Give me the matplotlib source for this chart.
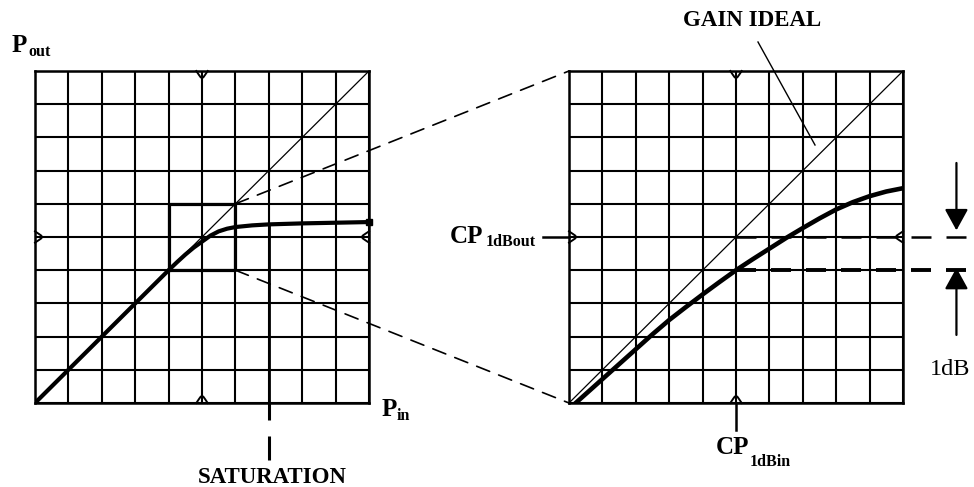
import numpy as np
import matplotlib
matplotlib.use("Agg")
import matplotlib.pyplot as plt
from matplotlib.patches import ConnectionPatch, FancyArrowPatch

plt.rcParams['lines.scale_dashes'] = False

# ---------------- data (grid units, 0..10) ----------------
grid_ticks = list(range(11))
ideal_x = [0, 10]
ideal_y = [0, 10]

# full-range transfer curve (left panel)
left_curve_x = [0, 1, 2, 3, 4, 4.25, 4.5, 4.75, 5.0, 5.25, 5.5, 5.75, 6.0, 6.5, 7, 8, 9, 10]
left_curve_y = [0, 1, 2, 3, 4, 4.24, 4.47, 4.68, 4.86, 5.04, 5.17, 5.25, 5.30, 5.35, 5.38, 5.41, 5.43, 5.45]

# zoomed transfer curve (right panel)
right_curve_x = [0.2, 1, 1.5, 2, 2.5, 3, 3.5, 4, 4.5, 5, 5.5, 6, 6.5, 7, 7.5, 8, 8.5, 9, 9.5, 10]
right_curve_y = [0.0, 0.72, 1.17, 1.62, 2.07, 2.5, 2.89, 3.27, 3.64, 4.0, 4.33, 4.65, 4.97,
                 5.27, 5.56, 5.83, 6.05, 6.23, 6.37, 6.47]

zoom_box_x = [4, 6, 6, 4, 4]
zoom_box_y = [4, 4, 6, 6, 4]

saturation_x = 7
cp1db_in = 5
cp1db_out = 5
cp1db_level = 4

W, H = 974, 487
serif = 'Liberation Serif'

fig = plt.figure(figsize=(W / 100, H / 100), dpi=100)


def box(x0, y0, x1, y1):
    return [x0 / W, 1 - y1 / H, (x1 - x0) / W, (y1 - y0) / H]


axL = fig.add_axes(box(35, 71, 369, 403))
axR = fig.add_axes(box(569, 71, 903, 403))

# rounded "V" ear shape: (offset along edge, depth into the grid)
ear_u = np.array([-0.17, -0.09, -0.04, 0.0, 0.04, 0.09, 0.17])
ear_d = np.array([0.0, 0.12, 0.19, 0.21, 0.19, 0.12, 0.0])

for ax in (axL, axR):
    ax.set_xlim(0, 10)
    ax.set_ylim(0, 10)
    ax.set_xticks(grid_ticks)
    ax.set_yticks(grid_ticks)
    ax.tick_params(length=0, labelbottom=False, labelleft=False)
    ax.grid(True, color='black', linewidth=1.5)
    ax.set_axisbelow(True)
    for s in ax.spines.values():
        s.set_linewidth(1.8)
        s.set_color('black')
    # ideal gain line
    ax.plot(ideal_x, ideal_y, color='black', linewidth=0.9, zorder=3)
    kw = dict(color='black', linewidth=1.4, clip_on=False, zorder=4)
    ax.plot(5 + ear_u, 10 - ear_d, **kw)   # top
    ax.plot(5 + ear_u, 0 + ear_d, **kw)    # bottom
    ax.plot(0 + ear_d, 5 + ear_u, **kw)    # left
    ax.plot(10 - ear_d, 5 + ear_u, **kw)   # right

# ---- left panel ----
axL.plot(left_curve_x, left_curve_y, color='black', linewidth=3.0, zorder=5,
         solid_capstyle='butt', solid_joinstyle='round')
axL.plot([left_curve_x[-1]], [left_curve_y[-1]], marker='s', markersize=5,
         color='black', clip_on=False, zorder=6)
axL.plot(zoom_box_x, zoom_box_y, color='black', linewidth=2.3, zorder=5)
# saturation marker line
sat_y = np.interp(saturation_x, left_curve_x, left_curve_y)
axL.plot([saturation_x, saturation_x], [sat_y, 0], color='black', linewidth=2.0, zorder=4)
axL.plot([saturation_x, saturation_x], [0, -0.51], color='black', linewidth=2.2,
         clip_on=False, solid_capstyle='butt')
axL.plot([saturation_x, saturation_x], [-1.0, -1.72], color='black', linewidth=2.2,
         clip_on=False, solid_capstyle='butt')

# ---- right panel ----
axR.plot(right_curve_x, right_curve_y, color='black', linewidth=3.3, zorder=5,
         solid_joinstyle='round')
axR.plot([cp1db_in, 12.05], [cp1db_out, cp1db_out], color='black', linewidth=1.8,
         dashes=(14.4, 10.8), clip_on=False, zorder=4)
axR.plot([cp1db_in, 12.05], [cp1db_level, cp1db_level], color='black', linewidth=2.8,
         dashes=(14.4, 10.8), clip_on=False, zorder=4)
# CP1dBin arrow line (below the axis)
axR.plot([cp1db_in, cp1db_in], [0, -0.81], color='black', linewidth=1.8, clip_on=False)
# CP1dBout arrow line (left of the axis)
axR.plot([-0.78, 0], [cp1db_out, cp1db_out], color='black', linewidth=1.8, clip_on=False)

# 1dB arrows
arr_x = 11.6
for (y0, y1) in [(7.23, 5.2), (2.05, 4.07)]:
    a = FancyArrowPatch((arr_x, y0), (arr_x, y1), transform=axR.transData,
                        arrowstyle='-|>,head_length=1.0,head_width=0.55',
                        mutation_scale=13, color='black', linewidth=1.6,
                        clip_on=False, shrinkA=0, shrinkB=0)
    axR.add_patch(a)

# zoom connectors
for a_pt, b_pt in [((6, 6), (0, 10)), ((6, 4), (0, 0))]:
    con = ConnectionPatch(xyA=a_pt, coordsA=axL.transData, xyB=b_pt, coordsB=axR.transData,
                          color='black', linewidth=1.2, linestyle=(0, (10, 7)), zorder=1)
    fig.add_artist(con)

# ---------------- text overlay (pixel coords) ----------------
ov = fig.add_axes([0, 0, 1, 1], zorder=10)
ov.set_xlim(0, W)
ov.set_ylim(H, 0)
ov.axis('off')
ov.patch.set_visible(False)

big = dict(family=serif, fontweight='bold', fontsize=18, va='baseline', ha='left')
sub = dict(family=serif, fontweight='bold', fontsize=11.5, va='baseline', ha='left')

ov.text(12, 52, 'P', **big)
ov.text(28, 56, 'out', **sub)
ov.text(382, 416, 'P', **big)
ov.text(397, 420, 'in', **sub)
ov.text(450, 243, 'CP', **big)
ov.text(486, 246, '1dBout', **sub)
ov.text(716, 454, 'CP', **big)
ov.text(750, 466, '1dBin', **sub)
ov.text(683, 26, 'GAIN IDEAL', family=serif, fontweight='bold', fontsize=16.5,
        va='baseline', ha='left')
ov.text(272, 483, 'SATURATION', family=serif, fontweight='bold', fontsize=16.5,
        va='baseline', ha='center')
ov.text(930, 375, '1dB', family=serif, fontsize=17.5, va='baseline', ha='left')
# leader line for GAIN IDEAL
ov.plot([758, 815], [42, 145], color='black', linewidth=1.0)

fig.savefig('out.png', dpi=100)
